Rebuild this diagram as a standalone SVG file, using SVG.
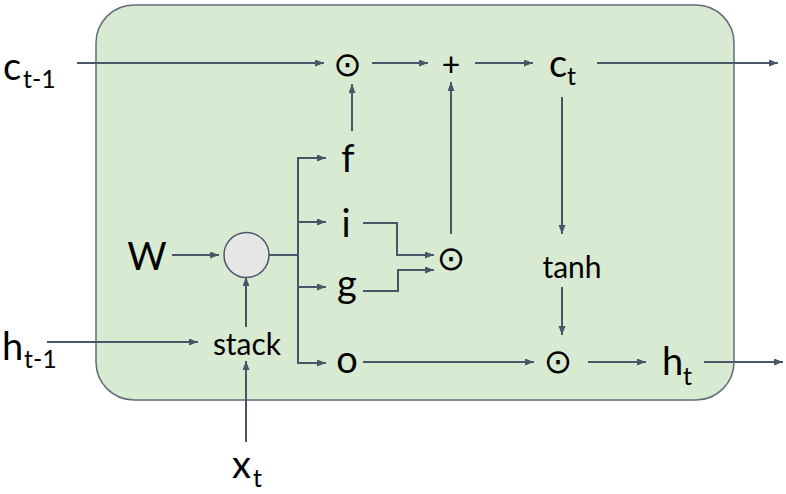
<svg xmlns="http://www.w3.org/2000/svg" width="786" height="494" viewBox="0 0 786 494">
<style>
.lbl{font-family:Lato,"Noto Sans","Liberation Sans",sans-serif;fill:#000}
.big{font-size:38px}
.sub{font-size:25px}
.word{font-size:30px}
.op{font-family:"DejaVu Sans",sans-serif;font-size:34px;fill:#000;text-anchor:middle}
.cn{fill:none;stroke:#4a5568;stroke-width:2}
.ar{marker-end:url(#ah)}
</style>
<defs>
<marker id="ah" markerUnits="userSpaceOnUse" markerWidth="10" markerHeight="8" refX="9" refY="3.5" orient="auto">
<path d="M0,0 L9,3.5 L0,7 z" fill="#4a5568"/>
</marker>
</defs>
<rect id="cell" x="96" y="5" width="638" height="395" rx="38" ry="38" fill="#d9ead3" stroke="#5f6b7a" stroke-width="1.5"/>
<g id="connectors">
<path class="cn ar" d="M77 63 H324"/>
<path class="cn ar" d="M372 63 H428"/>
<path class="cn ar" d="M475 63 H533"/>
<path class="cn ar" d="M597 63 H778"/>
<path class="cn ar" d="M352 131 V84"/>
<path class="cn" d="M269 255 H298" stroke-width="3"/>
<path class="cn" d="M298 157 V364"/>
<path class="cn ar" d="M297 158 H326"/>
<path class="cn ar" d="M298 222 H326"/>
<path class="cn ar" d="M298 287 H326"/>
<path class="cn ar" d="M297 363 H326"/>
<path class="cn ar" d="M172 255 H219"/>
<path class="cn ar" d="M246 327 V277"/>
<path class="cn ar" d="M47 342 H198"/>
<path class="cn ar" d="M246 442 V361"/>
<path class="cn ar" d="M363 223 H397 V255 H434"/>
<path class="cn ar" d="M363 291 H398 V270 H434"/>
<path class="cn ar" d="M451 234 V82"/>
<path class="cn ar" d="M562 97 V234"/>
<path class="cn ar" d="M562 287 V335"/>
<path class="cn ar" d="M363 362 H534"/>
<path class="cn ar" d="M588 362 H646"/>
<path class="cn ar" d="M704 362 H783"/>
</g>
<g id="c_prev"><text class="lbl big" x="3" y="80">c</text><text class="lbl sub" x="23" y="88">t-1</text></g>
<g id="h_prev"><text class="lbl big" x="2" y="360">h</text><text class="lbl sub" x="24" y="368">t-1</text></g>
<g id="x_t"><text class="lbl big" x="232" y="478">x</text><text class="lbl sub" x="253" y="487">t</text></g>
<g id="W"><text class="lbl big" x="147" y="270" text-anchor="middle">W</text></g>
<g id="matmul"><circle cx="246.5" cy="255" r="22.5" fill="#e6e6e6" stroke="#4a5568" stroke-width="1.5"/></g>
<g id="stack"><text class="lbl word" x="247" y="355" text-anchor="middle">stack</text></g>
<g id="f"><text class="lbl big" x="348" y="172" text-anchor="middle">f</text></g>
<g id="i"><text class="lbl big" x="346" y="237" text-anchor="middle">i</text></g>
<g id="g"><text class="lbl big" x="347" y="297" text-anchor="middle">g</text></g>
<g id="o"><text class="lbl big" x="347" y="373" text-anchor="middle">o</text></g>
<g id="mul_f"><text class="op" x="347.5" y="76">⊙</text></g>
<g id="plus"><text class="lbl" x="451" y="76" font-size="32" text-anchor="middle">+</text></g>
<g id="c_t"><text class="lbl big" x="549" y="77">c</text><text class="lbl sub" x="567" y="85">t</text></g>
<g id="mul_ig"><text class="op" x="451" y="270">⊙</text></g>
<g id="tanh"><text class="lbl word" x="572" y="278" text-anchor="middle">tanh</text></g>
<g id="mul_o"><text class="op" x="558" y="373">⊙</text></g>
<g id="h_t"><text class="lbl big" x="662" y="375">h</text><text class="lbl sub" x="683" y="385">t</text></g>
</svg>
